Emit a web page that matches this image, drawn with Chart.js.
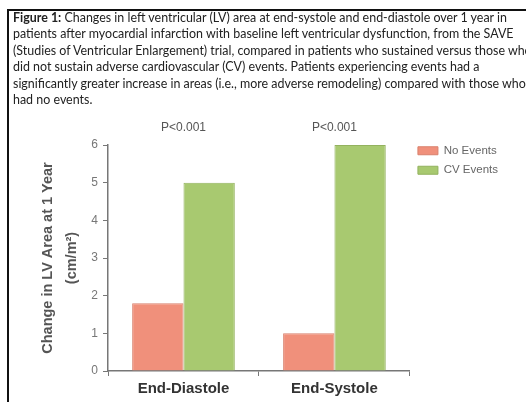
<!DOCTYPE html>
<html><head><meta charset="utf-8">
<script src="https://cdn.jsdelivr.net/npm/chart.js@4"></script>
<style>
html,body{margin:0;padding:0;background:#fff;width:526px;height:402px;overflow:hidden;}
#frame{position:absolute;left:7px;top:9px;width:530px;height:400px;border-left:2.5px solid #111;border-top:2.5px solid #111;}
#cap{position:absolute;left:13px;top:10px;width:513px;overflow:hidden;white-space:nowrap;font-family:Lato,"Open Sans",sans-serif;font-size:12.45px;line-height:16.4px;color:#222;}
#cap b{font-weight:bold;}
#wrap{position:absolute;left:0;top:0;width:526px;height:402px;}
</style></head>
<body>
<div id="wrap"><canvas id="c" width="526" height="402"></canvas></div>
<div id="frame"></div>
<div id="cap"><b>Figure 1:</b> Changes in left ventricular (LV) area at end-systole and end-diastole over 1 year in<br>patients after myocardial infarction with baseline left ventricular dysfunction, from the SAVE<br>(Studies of Ventricular Enlargement) trial, compared in patients who sustained versus those who<br>did not sustain adverse cardiovascular (CV) events. Patients experiencing events had a<br>significantly greater increase in areas (i.e., more adverse remodeling) compared with those who<br>had no events.</div>
<script>
const categories = ['End-Diastole', 'End-Systole'];
const noEvents = [1.8, 1.0];
const cvEvents = [5.0, 6.0];
const pLabels = ['P<0.001', 'P<0.001'];
const yTicks = [0, 1, 2, 3, 4, 5, 6];
const yTitle = ['Change in LV Area at 1 Year', '(cm/m²)'];

const FONT = '"Liberation Sans", Arial, sans-serif';

const pPlugin = {
  id: 'pvals',
  afterLayout(chart) {
    if (chart.legend) { chart.legend.top -= 8; chart.legend.bottom -= 8; }
  },
  afterDraw(chart) {
    const ctx = chart.ctx, xs = chart.scales.x;
    ctx.save();
    ctx.font = '12px ' + FONT;
    ctx.fillStyle = '#555';
    ctx.textAlign = 'center';
    ctx.textBaseline = 'middle';
    pLabels.forEach((t, i) => ctx.fillText(t, xs.getPixelForValue(i), 128));
    ctx.restore();
  }
};

new Chart(document.getElementById('c'), {
  type: 'bar',
  data: {
    labels: categories,
    datasets: [
      {label: 'No Events', data: noEvents, backgroundColor: '#F0907B', borderColor: '#D9806C', borderWidth: 1},
      {label: 'CV Events', data: cvEvents, backgroundColor: '#A8C970', borderColor: '#93B25E', borderWidth: 1}
    ]
  },
  options: {
    responsive: false,
    animation: false,
    devicePixelRatio: 1,
    layout: {padding: {left: 36, top: 145, right: 18, bottom: 0}},
    datasets: {bar: {categoryPercentage: 0.68, barPercentage: 1.0}},
    plugins: {
      tooltip: {enabled: false},
      legend: {
        position: 'right', align: 'start',
        labels: {boxWidth: 20, boxHeight: 8, padding: 8, color: '#666', font: {family: FONT, size: 11.5}}
      }
    },
    scales: {
      x: {
        grid: {drawOnChartArea: false, tickLength: 5, color: '#777', offset: true},
        border: {color: '#777', width: 1.5},
        ticks: {color: '#333', padding: 4, font: {family: FONT, size: 15, weight: 'bold'}}
      },
      y: {
        min: 0, max: 6,
        afterBuildTicks: s => { s.ticks = yTicks.map(v => ({value: v})); },
        afterFit: s => { s.width = 108 - 36; },
        grid: {drawOnChartArea: false, tickLength: 5, color: '#777'},
        border: {color: '#777', width: 1.5},
        ticks: {color: '#777', padding: 5, font: {family: FONT, size: 12}},
        title: {display: true, text: yTitle, color: '#555', padding: 0, font: {family: FONT, size: 14.5, weight: 'bold', lineHeight: 1.65}}
      }
    }
  },
  plugins: [pPlugin]
});
</script>
</body></html>
